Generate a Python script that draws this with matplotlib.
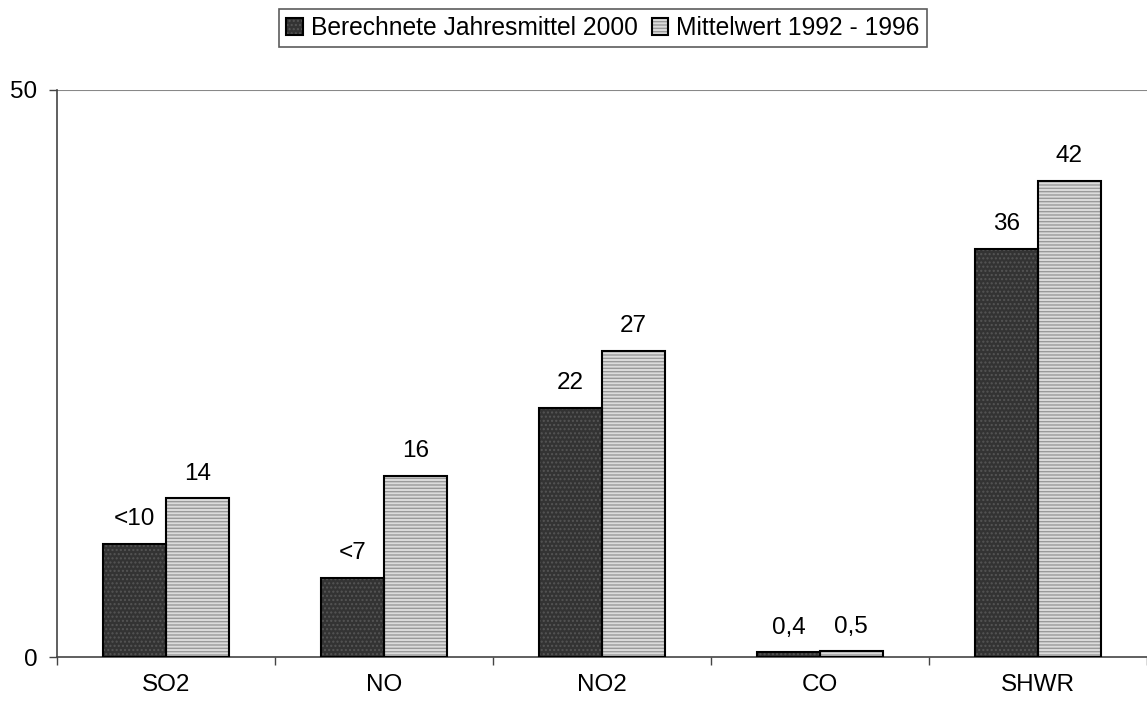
import numpy as np
import matplotlib.pyplot as plt
from matplotlib.patches import Patch
from matplotlib.legend_handler import HandlerTuple

plt.rcParams['font.family'] = ['Liberation Sans', 'DejaVu Sans']

categories = ['SO2', 'NO', 'NO2', 'CO', 'SHWR']
calc_2000 = [10, 7, 22, 0.4, 36]
mean_92_96 = [14, 16, 27, 0.5, 42]
labels_2000 = ['<10', '<7', '22', '0,4', '36']
labels_92_96 = ['14', '16', '27', '0,5', '42']
series_names = ['Berechnete Jahresmittel 2000', 'Mittelwert 1992 - 1996']

fig = plt.figure(figsize=(11.47, 7.04), dpi=100)
ax = fig.add_axes([57 / 1147, 47 / 704, 1 - 57 / 1147, (657 - 90) / 704])

x = np.arange(len(categories))
w = 0.287
fs = 17.5

# fill + hatch first, black outline on top
ax.bar(x - w / 2, calc_2000, w, color='#333333', edgecolor='#555555',
       hatch='....', linewidth=0, zorder=2)
ax.bar(x - w / 2, calc_2000, w, fill=False, edgecolor='black', linewidth=1.5, zorder=3)
ax.bar(x + w / 2, mean_92_96, w, color='#dcdcdc', edgecolor='#9a9a9a',
       hatch='-----', linewidth=0, zorder=2)
ax.bar(x + w / 2, mean_92_96, w, fill=False, edgecolor='black', linewidth=1.5, zorder=3)

for i in range(len(categories)):
    ax.text(x[i] - w / 2, calc_2000[i] + 1.2, labels_2000[i], ha='center', va='bottom', fontsize=fs)
    ax.text(x[i] + w / 2, mean_92_96[i] + 1.2, labels_92_96[i], ha='center', va='bottom', fontsize=fs)

ax.set_xlim(-0.5, len(categories) - 0.5)
ax.set_ylim(0, 50)
ax.set_yticks([0, 50])
ax.tick_params(axis='y', labelsize=fs, length=6, width=1, direction='out', colors='#444444',
               labelcolor='black', pad=8)
ax.set_xticks(np.arange(len(categories) + 1) - 0.5)
ax.set_xticklabels([])
ax.set_xticks(x, minor=True)
ax.set_xticklabels(categories, minor=True, fontsize=fs)
ax.tick_params(axis='x', which='major', length=6, width=1, colors='#444444')
ax.tick_params(axis='x', which='minor', length=0, pad=12)

ax.axhline(50, color='#888888', linewidth=1.5, zorder=1)
ax.spines['top'].set_visible(False)
ax.spines['right'].set_visible(False)
ax.spines['left'].set_color('#444444')
ax.spines['bottom'].set_color('#444444')
ax.spines['left'].set_linewidth(1.2)
ax.spines['bottom'].set_linewidth(1.2)

h1 = (Patch(facecolor='#333333', edgecolor='#555555', hatch='....', linewidth=0),
      Patch(fill=False, edgecolor='black', linewidth=1.5))
h2 = (Patch(facecolor='#dcdcdc', edgecolor='#9a9a9a', hatch='-----', linewidth=0),
      Patch(fill=False, edgecolor='black', linewidth=1.5))
lfs = 17.7
leg = fig.legend([h1, h2], series_names, handler_map={tuple: HandlerTuple(ndivide=1, pad=0)},
                 loc='center', bbox_to_anchor=(603 / 1147, 1 - 28 / 704), ncol=2,
                 fontsize=lfs, frameon=True, fancybox=False, edgecolor='#333333',
                 handlelength=0.66, handleheight=0.66, handletextpad=0.33, columnspacing=0.58,
                 borderpad=0.3, borderaxespad=0)
leg.get_frame().set_linewidth(1.2)

fig.savefig('out.png', dpi=100)
